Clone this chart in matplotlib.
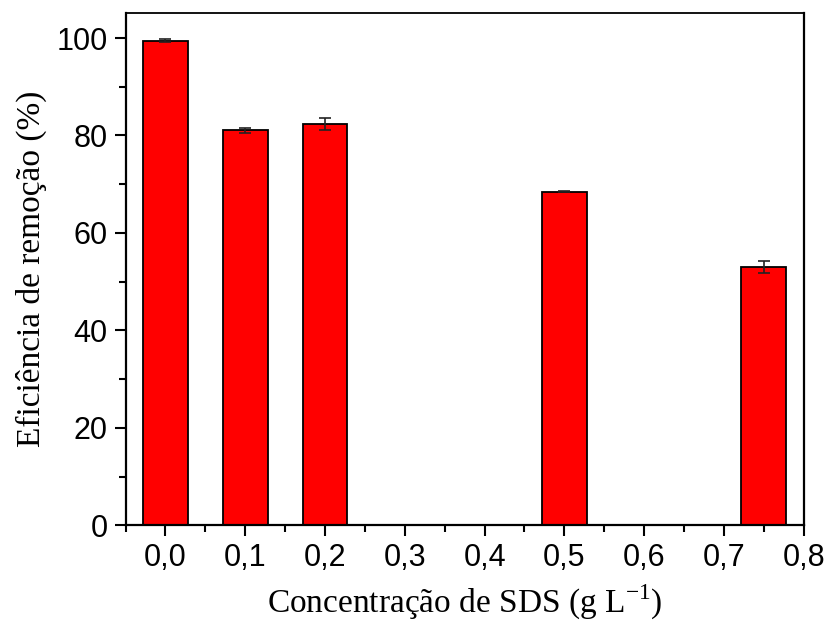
import matplotlib.pyplot as plt
from matplotlib.ticker import MultipleLocator, FuncFormatter

# SDS concentration (g/L) vs. removal efficiency (%)
conc = [0.0, 0.1, 0.2, 0.5, 0.75]
efficiency = [99.4, 81.1, 82.4, 68.5, 53.0]
std_dev = [0.3, 0.5, 1.2, 0.1, 1.3]

fig = plt.figure(figsize=(8.26, 6.33), dpi=100)
ax = fig.add_axes([0.152, 0.170, 0.821, 0.810])

ax.bar(conc, efficiency, width=0.056, color='#ff0000', edgecolor='black', linewidth=1.3, zorder=2)
ax.errorbar(conc, efficiency, yerr=std_dev, fmt='none', ecolor='#222222', elinewidth=1.2,
            capsize=4.5, capthick=1.2, zorder=3)

ax.set_xlim(-0.05, 0.8)
ax.set_ylim(0, 105.2)
ax.xaxis.set_major_locator(MultipleLocator(0.1))
ax.xaxis.set_minor_locator(MultipleLocator(0.05))
ax.yaxis.set_major_locator(MultipleLocator(20))
ax.yaxis.set_minor_locator(MultipleLocator(10))
ax.xaxis.set_major_formatter(FuncFormatter(lambda v, p: f'{v:.1f}'.replace('.', ',')))

ax.tick_params(which='both', direction='out', top=False, right=False, width=1.5)
ax.tick_params(which='major', length=8, labelsize=22, pad=5)
ax.tick_params(which='minor', length=5)
for lab in ax.get_xticklabels() + ax.get_yticklabels():
    lab.set_family('Liberation Sans')

for side in ['left', 'bottom', 'right']:
    ax.spines[side].set_linewidth(1.6)
ax.spines['top'].set_linewidth(1.3)

ax.set_xlabel('Concentração de SDS (g L$^{\\mathregular{-1}}$)', family='Liberation Serif',
              fontsize=24, labelpad=7)
ax.set_ylabel('Eficiência de remoção (%)', family='Liberation Serif', fontsize=24, labelpad=7)

fig.savefig('out.png', dpi=100)
